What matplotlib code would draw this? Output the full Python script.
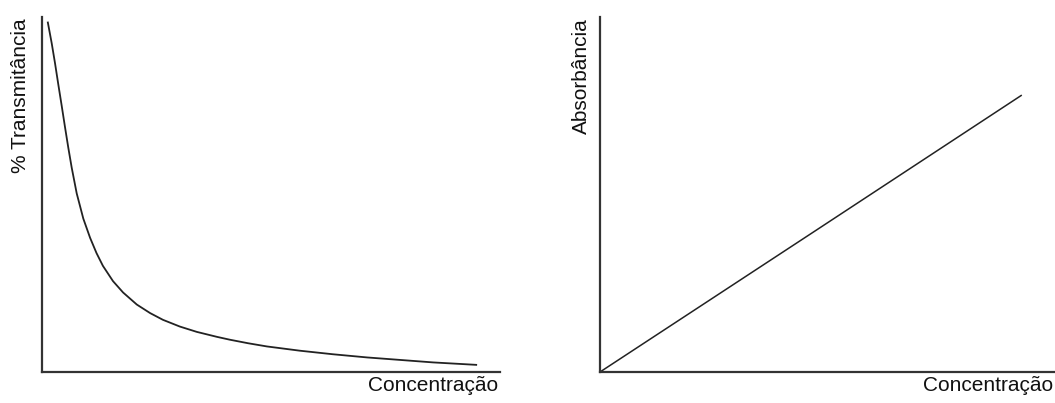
import matplotlib.pyplot as plt

plt.rcParams['font.family'] = ['Liberation Sans', 'DejaVu Sans']

# Transmitancia vs concentracao (curva)
conc_t = [1.24, 2.12, 2.84, 3.56, 4.30, 5.02, 5.74, 6.48, 7.58, 9.02, 10.5,
          11.9, 13.3, 15.5, 17.7, 20.7, 23.6, 26.4, 30.1, 33.8, 38.2, 41.0,
          45.0, 49.1, 56.3, 63.5, 71.0, 78.2, 85.4, 95.0]
transm = [98.7, 92.6, 87.0, 81.0, 75.0, 69.0, 63.2, 57.6, 50.3, 43.2, 37.8,
          33.5, 29.9, 25.6, 22.4, 19.0, 16.6, 14.7, 12.8, 11.3, 9.9, 9.1,
          8.1, 7.2, 6.0, 5.0, 4.1, 3.4, 2.7, 2.0]

# Absorbancia vs concentracao (reta)
conc_a = [0.0, 46.4, 92.7]
absorb = [0.0, 39.0, 78.0]

W, H = 1055, 403
fig = plt.figure(figsize=(W / 100, H / 100), dpi=100)

ax1 = fig.add_axes([42 / W, 31 / H, 458 / W, 355 / H])
ax2 = fig.add_axes([600 / W, 31 / H, 455 / W, 355 / H])

ax1.plot(conc_t, transm, color='#222222', lw=1.3, solid_capstyle='butt', solid_joinstyle='round')
ax2.plot(conc_a, absorb, color='#222222', lw=1.1, solid_capstyle='butt')

for ax in (ax1, ax2):
    ax.set_xlim(0, 100)
    ax.set_ylim(0, 100)
    ax.set_xticks([])
    ax.set_yticks([])
    for s in ('top', 'right'):
        ax.spines[s].set_visible(False)
    for s in ('left', 'bottom'):
        ax.spines[s].set_color('#333333')
        ax.spines[s].set_linewidth(1.6)

fs = 15
fig.text(498 / W, 1 - 376 / H, 'Concentração', ha='right', va='top', fontsize=fs, color='#111111')
fig.text(1053 / W, 1 - 376 / H, 'Concentração', ha='right', va='top', fontsize=fs, color='#111111')
fig.text(21 / W, 1 - 18 / H, '% Transmitância', rotation=90, ha='center', va='top', fontsize=fs, color='#111111')
fig.text(581 / W, 1 - 18 / H, 'Absorbância', rotation=90, ha='center', va='top', fontsize=fs, color='#111111')

fig.savefig('out.png', dpi=100)
